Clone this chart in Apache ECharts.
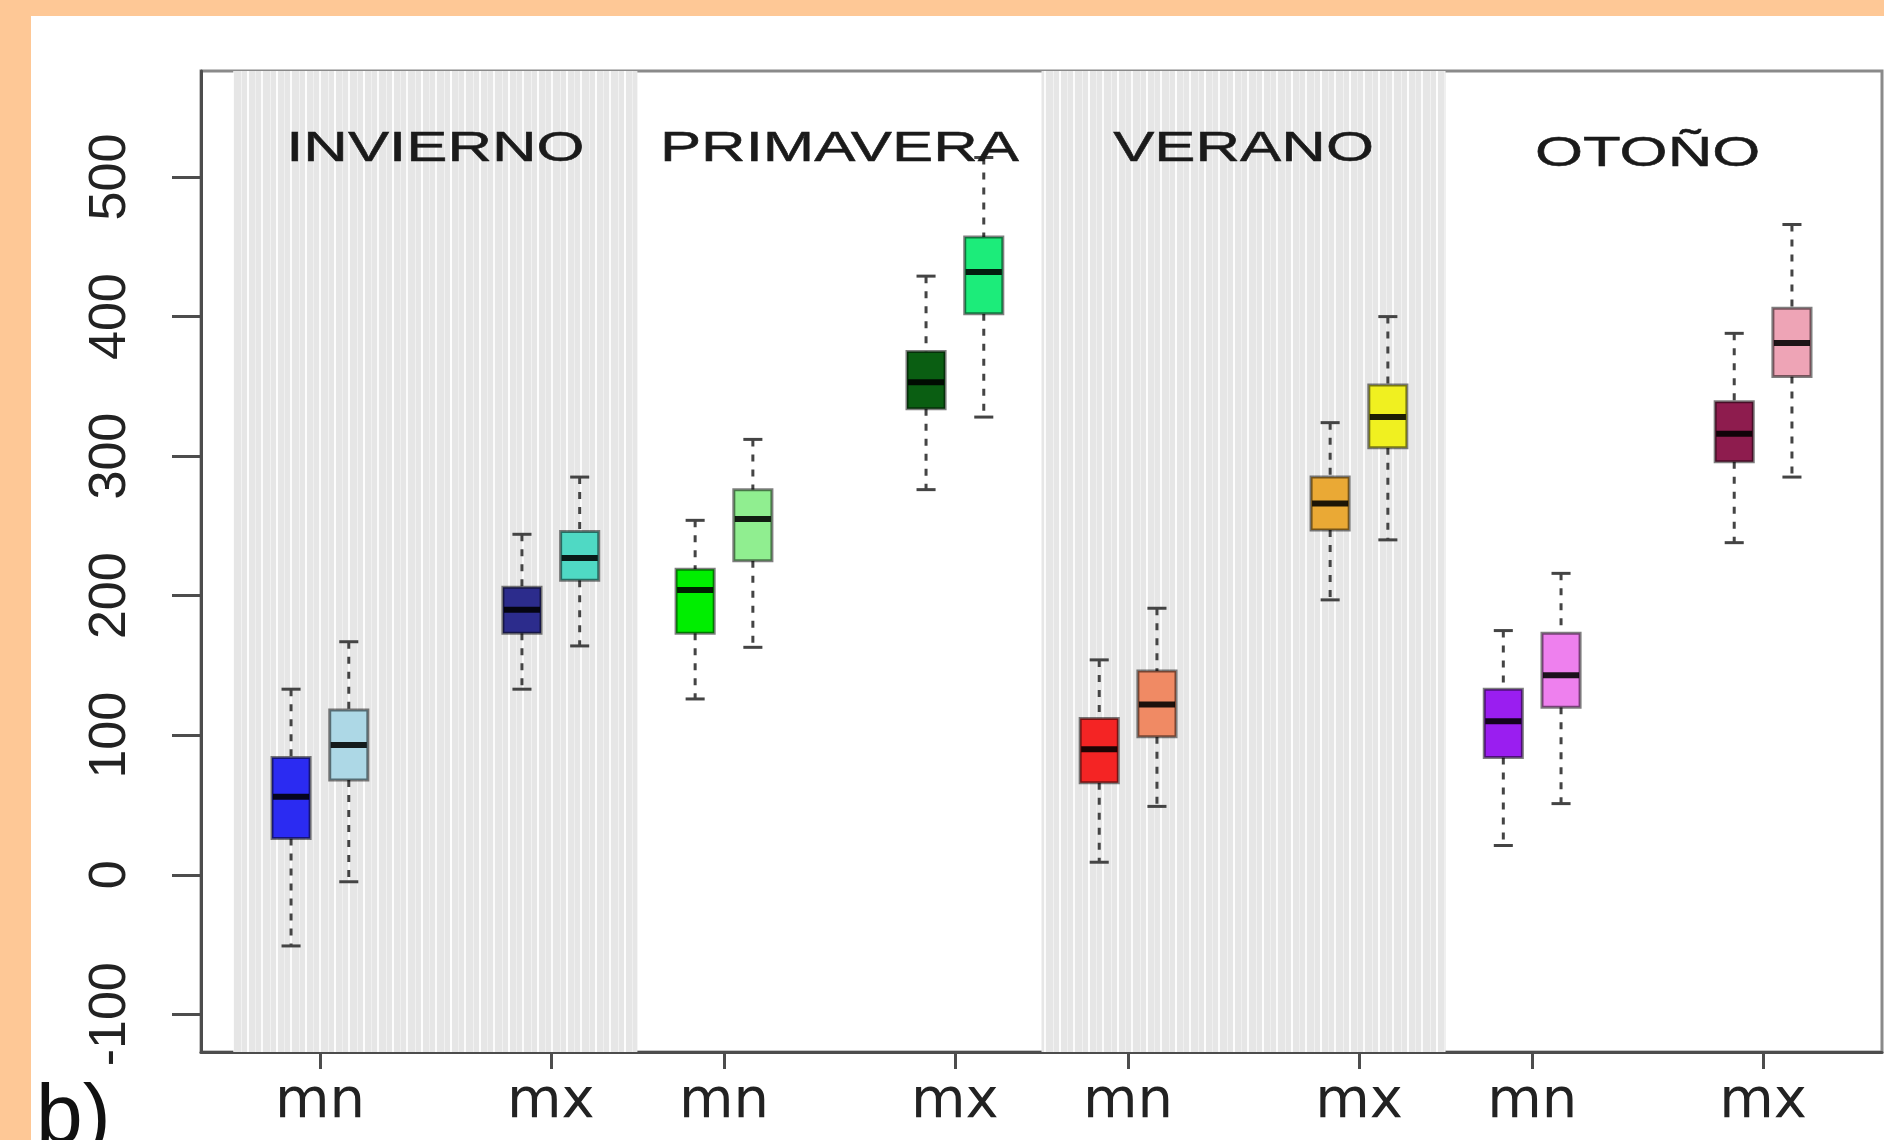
<!DOCTYPE html>
<html><head><meta charset="utf-8">
<script src="https://cdn.jsdelivr.net/npm/echarts@6/dist/echarts.min.js"></script>
<style>
html,body{margin:0;padding:0;background:#fec896;overflow:hidden;}
#panel{position:absolute;left:31px;top:16px;width:1853px;height:1124px;background:#fff;}
#chart{position:absolute;left:0;top:0;width:1884px;height:1140px;}
</style></head><body>
<div id="panel"></div><div id="chart"></div>
<script>
// ---- data ----
const positions   = [1, 2, 5, 6, 8, 9, 12, 13, 15, 16, 19, 20, 22, 23, 26, 27];
const whiskerLow  = [-51, -5, 133, 164, 126, 163, 276, 328,   9,  49, 197, 240,  21,  51, 238, 285];
const quart1      = [ 26, 68, 173, 211, 173, 225, 334, 402,  66,  99, 247, 306,  84, 120, 296, 357];
const median      = [ 56, 93, 190, 227, 204, 255, 353, 432,  90, 122, 266, 328, 110, 143, 316, 381];
const quart3      = [ 84,118, 206, 246, 219, 276, 375, 457, 112, 146, 285, 351, 133, 173, 339, 406];
const whiskerHigh = [133,167, 244, 285, 254, 312, 429, 514, 154, 191, 324, 400, 175, 216, 388, 466];
const boxColors   = ['#2b2bf2','#add8e6','#2c2c8c','#4fd9c4','#00ee00','#90ee90','#0a5e12','#1cec7a',
                     '#f42424','#f08a64','#eaa935','#f0f020','#9a1ef0','#ee80ee','#8e1c4e','#eea4b6'];
const xTicks      = [1.5, 5.5, 8.5, 12.5, 15.5, 19.5, 22.5, 26.5];
const xTickLabels = ['mn','mx','mn','mx','mn','mx','mn','mx'];
const yTicks      = [-100, 0, 100, 200, 300, 400, 500];
const seasons     = ['INVIERNO','PRIMAVERA','VERANO','OTOÑO'];
const seasonX     = [3.5, 10.5, 17.5, 24.5];
const seasonY     = [520, 520, 520, 516];
const shadedStart = [0, 14];
const shadedEnd   = [7, 21];
const xMin = -0.56, xMax = 28.56, yMin = -127, yMax = 576;

// stripe pattern for shaded seasons
const pc = document.createElement('canvas'); pc.width = 29; pc.height = 8;
const g = pc.getContext('2d');
g.fillStyle = '#e6e6e6'; g.fillRect(0,0,29,8);
g.fillStyle = '#fbfbfb'; g.fillRect(0,0,2,8);
g.fillStyle = '#f2f2f2'; g.fillRect(9,0,1,8);
g.fillStyle = '#fdfdfd'; g.fillRect(15,0,2,8);
g.fillStyle = '#f0f0f0'; g.fillRect(23,0,1,8);

const boxData = positions.map((p,i)=>[p, whiskerLow[i], quart1[i], median[i], quart3[i], whiskerHigh[i]]);
const regionData = shadedStart.map((s,i)=>[s, shadedEnd[i]]);
const seasonData = seasons.map((s,i)=>[seasonX[i], seasonY[i]]);

const chart = echarts.init(document.getElementById('chart'), null, {renderer:'canvas'});
const axisCol = '#4d4d4d';
chart.setOption({
  animation:false,
  backgroundColor:'transparent',
  grid:{left:201, right:2, top:71, bottom:88, show:true, borderColor:'#8a8a8a', borderWidth:3, backgroundColor:'transparent'},
  xAxis:{type:'value', min:xMin, max:xMax, splitLine:{show:false},
    axisLine:{onZero:false, lineStyle:{color:axisCol, width:3}},
    axisTick:{show:true, customValues:xTicks, length:17, lineStyle:{color:axisCol, width:3}},
    axisLabel:{customValues:xTicks, margin:22, fontSize:56, fontFamily:'DejaVu Sans', color:'#222',
      formatter:(v)=>{let k=0,b=1e9; xTicks.forEach((t,i)=>{if(Math.abs(t-v)<b){b=Math.abs(t-v);k=i;}}); return xTickLabels[k];}}
  },
  yAxis:{type:'value', min:yMin, max:yMax, splitLine:{show:false},
    axisLine:{show:true, onZero:false, lineStyle:{color:axisCol, width:3}},
    axisTick:{show:true, customValues:yTicks, length:29, lineStyle:{color:axisCol, width:3}},
    axisLabel:{customValues:yTicks, rotate:90, margin:64, fontSize:52,
      fontFamily:"'Liberation Sans Narrow','Liberation Sans',sans-serif", color:'#222'}
  },
  graphic:[{type:'text', x:36, y:1120, style:{text:'b)', fontSize:84, fontFamily:'Liberation Sans', fill:'#111', verticalAlign:'middle'}}],
  series:[
    {type:'custom', name:'regions', z:1, clip:true, data:regionData, encode:{x:[0,1]},
     renderItem:(params, api)=>{
       const a = api.coord([api.value(0), yMax]);
       const b = api.coord([api.value(1), yMin]);
       return {type:'rect', shape:{x:a[0], y:a[1], width:b[0]-a[0], height:b[1]-a[1]},
               style:{fill:{image:pc, repeat:'repeat'}}};
     }},
    {type:'custom', name:'boxes', z:3, data:boxData, encode:{x:0, y:[1,2,3,4,5]},
     renderItem:(params, api)=>{
       const x = api.value(0);
       const pLo = api.coord([x, api.value(1)]), pQ1 = api.coord([x, api.value(2)]),
             pMd = api.coord([x, api.value(3)]), pQ3 = api.coord([x, api.value(4)]),
             pHi = api.coord([x, api.value(5)]);
       const w = api.size([0.66, 0])[0];
       const cx = pLo[0], hw = w/2, cw = w/4;
       const wStyle = {stroke:'#444', lineWidth:3, lineDash:[7,8]};
       const cStyle = {stroke:'#444', lineWidth:3};
       return {type:'group', children:[
         {type:'line', shape:{x1:cx, y1:pHi[1], x2:cx, y2:pQ3[1]}, style:wStyle},
         {type:'line', shape:{x1:cx, y1:pQ1[1], x2:cx, y2:pLo[1]}, style:wStyle},
         {type:'line', shape:{x1:cx-cw, y1:pHi[1], x2:cx+cw, y2:pHi[1]}, style:cStyle},
         {type:'line', shape:{x1:cx-cw, y1:pLo[1], x2:cx+cw, y2:pLo[1]}, style:cStyle},
         {type:'rect', shape:{x:cx-hw, y:pQ3[1], width:w, height:pQ1[1]-pQ3[1]},
          style:{fill:boxColors[params.dataIndex], stroke:'rgba(0,0,0,0.5)', lineWidth:3}},
         {type:'line', shape:{x1:cx-hw+1, y1:pMd[1], x2:cx+hw-1, y2:pMd[1]}, style:{stroke:'rgba(0,0,0,0.88)', lineWidth:6}}
       ]};
     }},
    {type:'custom', name:'seasons', z:4, data:seasonData, encode:{x:0, y:1},
     renderItem:(params, api)=>{
       const p = api.coord([api.value(0), api.value(1)]);
       return {type:'text', x:p[0], y:p[1], scaleX:1.47,
         style:{text:seasons[params.dataIndex], fontSize:42, fontFamily:'Liberation Sans', fill:'#1a1a1a',
                stroke:'#1a1a1a', lineWidth:0.5, align:'center', verticalAlign:'middle'}};
     }}
  ]
});
</script>
</body></html>
